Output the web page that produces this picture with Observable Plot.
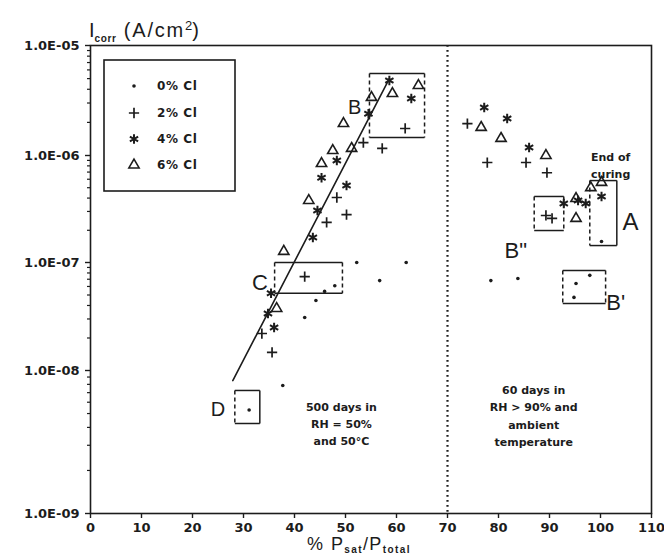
<!DOCTYPE html>
<html>
<head>
<meta charset="utf-8">
<script src="https://cdn.jsdelivr.net/npm/d3@7"></script>
<script src="https://cdn.jsdelivr.net/npm/@observablehq/plot@0.6"></script>
<style>
  html, body { margin: 0; padding: 0; background: #fff; }
  #chart svg { display: block; }
</style>
</head>
<body>
<div id="chart"></div>
<script>
// Corrosion current density against relative vapour saturation, by chloride content

// Axis ticks
const xTicks = [0, 10, 20, 30, 40, 50, 60, 70, 80, 90, 100, 110];
const yMajor = [1e-9, 1e-8, 1e-7, 1e-6, 1e-5];
const yMajorLabels = ["1.0E-09", "1.0E-08", "1.0E-07", "1.0E-06", "1.0E-05"];

// 0% Cl
const cl0X = [52.2, 61.9, 56.7, 47.9, 45.9, 44.2, 42.0, 37.7, 31.1, 78.5, 83.8, 100.2, 95.2, 97.9, 94.8];
const cl0Y = [1.0e-7, 1.0e-7, 6.8e-8, 6.1e-8, 5.4e-8, 4.45e-8, 3.1e-8, 7.85e-9, 5.3e-9, 6.8e-8, 7.1e-8, 1.57e-7, 6.4e-8, 7.6e-8, 4.75e-8];

// 2% Cl
const cl2X = [61.7, 53.5, 57.2, 48.3, 50.2, 46.3, 42.0, 33.6, 35.6, 73.9, 77.8, 85.4, 89.5, 89.3, 90.5];
const cl2Y = [1.76e-6, 1.31e-6, 1.16e-6, 4.05e-7, 2.8e-7, 2.37e-7, 7.4e-8, 2.2e-8, 1.47e-8, 1.95e-6, 8.6e-7, 8.6e-7, 6.9e-7, 2.75e-7, 2.58e-7];

// 4% Cl
const cl4X = [58.6, 62.9, 54.5, 48.3, 45.3, 50.2, 44.5, 43.6, 35.4, 34.8, 36.0, 77.2, 81.7, 86.0, 100.2, 92.8, 97.1, 95.6];
const cl4Y = [4.8e-6, 3.3e-6, 2.4e-6, 9.0e-7, 6.2e-7, 5.25e-7, 3.06e-7, 1.71e-7, 5.2e-8, 3.37e-8, 2.5e-8, 2.73e-6, 2.17e-6, 1.18e-6, 4.14e-7, 3.56e-7, 3.56e-7, 3.8e-7];

// 6% Cl
const cl6X = [59.2, 64.3, 55.1, 49.6, 51.2, 47.5, 45.3, 42.8, 37.9, 36.5, 76.6, 80.5, 89.3, 98.1, 100.2, 95.2, 95.2];
const cl6Y = [3.66e-6, 4.33e-6, 3.37e-6, 1.95e-6, 1.16e-6, 1.11e-6, 8.4e-7, 3.8e-7, 1.27e-7, 3.75e-8, 1.8e-6, 1.43e-6, 1.0e-6, 5.0e-7, 5.6e-7, 3.96e-7, 2.58e-7];

// Regression line through the curing-period points
const fitX = [27.9, 58.6];
const fitY = [8.5e-9, 5.0e-6];

// Grouping boxes
const boxNames = ["B", "C", "D", "B\"", "A", "B'"];
const boxX1 = [54.7, 36.1, 28.3, 87.0, 97.9, 92.6];
const boxX2 = [65.5, 49.4, 33.2, 92.8, 103.2, 101.0];
const boxYTop = [5.56e-6, 1.0e-7, 7.25e-9, 4.14e-7, 5.83e-7, 8.43e-8];
const boxYBottom = [1.46e-6, 5.2e-8, 4.26e-9, 1.99e-7, 1.44e-7, 4.17e-8];
const boxLabelX = [51.8, 33.2, 25.0, 83.4, 105.9, 103.0];
const boxLabelY = [2.73e-6, 6.4e-8, 5.3e-9, 1.29e-7, 2.37e-7, 4.26e-8];
const boxLabelSize = [20, 22, 20, 22, 24, 22];

// End of the curing period
const dividerX = [70];

// Notes
const noteText = ["500 days in\nRH = 50%\nand 50°C", "60 days in\nRH > 90% and\nambient\ntemperature", "End of\ncuring"];
const noteX = [49.2, 86.9, 102.0];
const noteY = [4.33e-9, 4.92e-9, 8.3e-7];

const legendLabels = ["0% Cl", "2% Cl", "4% Cl", "6% Cl"];

// Tables for the marks
const ink = "#1c1c1c";
const pts = (xs, ys) => xs.map((x, i) => ({x, y: ys[i]}));
const cl0 = pts(cl0X, cl0Y), cl2 = pts(cl2X, cl2Y), cl4 = pts(cl4X, cl4Y), cl6 = pts(cl6X, cl6Y);
const fit = pts(fitX, fitY);
const boxes = boxNames.map((name, i) => ({name, x1: boxX1[i], x2: boxX2[i], top: boxYTop[i], bottom: boxYBottom[i],
  lx: boxLabelX[i], ly: boxLabelY[i], size: boxLabelSize[i]}));
// top and bottom edges solid; right edge solid for A and D; the other sides dashed
const solidRight = new Set(["A", "D"]);
const solidEdges = boxes.flatMap(b => {
  const e = [
    {x1: b.x1, y1: b.top, x2: b.x2, y2: b.top},
    {x1: b.x1, y1: b.bottom, x2: b.x2, y2: b.bottom}
  ];
  if (solidRight.has(b.name)) e.push({x1: b.x2, y1: b.top, x2: b.x2, y2: b.bottom});
  return e;
});
const dashedEdges = boxes.flatMap(b => {
  const e = [{x1: b.x1, y1: b.top, x2: b.x1, y2: b.bottom}];
  if (!solidRight.has(b.name)) e.push({x1: b.x2, y1: b.top, x2: b.x2, y2: b.bottom});
  return e;
});
const notes = noteText.map((text, i) => ({text, x: noteX[i], y: noteY[i]}));
const yMinor = yMajor.slice(0, 4).flatMap(d => [2, 3, 4, 5, 6, 7, 8, 9].map(k => k * d));
const yLabelOf = new Map(yMajor.map((d, i) => [d, yMajorLabels[i]]));

const chart = Plot.plot({
  width: 664,
  height: 553,
  marginLeft: 90,
  marginRight: 13,
  marginTop: 45,
  marginBottom: 40,
  style: {fontFamily: "DejaVu Sans, sans-serif", color: ink, background: "#fff"},
  x: {domain: [0, 110]},
  y: {type: "log", domain: yMajor, range: [513, 370, 262, 155, 45]},
  marks: [
    Plot.frame({stroke: ink, strokeWidth: 1.6}),
    Plot.axisX(xTicks, {anchor: "bottom", tickSize: 5, tickPadding: 4, fontSize: 13, fontWeight: "bold", letterSpacing: -0.4, label: null, stroke: ink, strokeWidth: 1.4}),
    Plot.axisY(yMajor, {anchor: "left", tickSize: 5, tickPadding: 6, fontSize: 13, fontWeight: "bold", letterSpacing: 1.3, tickFormat: d => yLabelOf.get(d), label: null, stroke: ink, strokeWidth: 1.4}),
    Plot.axisY(yMinor, {anchor: "left", tickSize: 3, tickFormat: () => "", label: null, stroke: ink, strokeWidth: 1.2}),
    Plot.ruleX(dividerX, {stroke: ink, strokeWidth: 2.2, strokeDasharray: "1.8,3.2"}),
    Plot.line(fit, {x: "x", y: "y", stroke: ink, strokeWidth: 1.6}),
    Plot.link(solidEdges, {x1: "x1", y1: "y1", x2: "x2", y2: "y2", stroke: ink, strokeWidth: 1.5}),
    Plot.link(dashedEdges, {x1: "x1", y1: "y1", x2: "x2", y2: "y2", stroke: ink, strokeWidth: 1.5, strokeDasharray: "4,3"}),
    Plot.dot(cl0, {x: "x", y: "y", r: 1.8, fill: ink, stroke: "none"}),
    Plot.dot(cl2, {x: "x", y: "y", symbol: "plus", r: 3.4, fill: "none", stroke: ink, strokeWidth: 1.7}),
    Plot.dot(cl4, {x: "x", y: "y", symbol: "asterisk", r: 4.5, fill: "none", stroke: ink, strokeWidth: 2}),
    Plot.dot(cl6, {x: "x", y: "y", symbol: "triangle2", r: 4.9, fill: "none", stroke: ink, strokeWidth: 1.6}),
    Plot.text(boxes, {x: "lx", y: "ly", text: "name", fontSize: "size", fontFamily: "Liberation Sans, Arial, sans-serif", fill: ink}),
    Plot.text(notes, {x: "x", y: "y", text: "text", fontSize: 11, fontWeight: "bold", lineHeight: 1.55, fill: ink})
  ]
});

document.getElementById("chart").appendChild(chart);

// Axis titles with sub/superscripts
const svg = d3.select(chart);
const yTitle = svg.append("text")
  .attr("x", 89).attr("y", 37).attr("text-anchor", "start")
  .attr("font-family", "Liberation Sans, Arial, sans-serif")
  .attr("font-size", 20).attr("fill", ink);
yTitle.append("tspan").text("I");
yTitle.append("tspan").attr("font-size", 10).attr("font-weight", "bold").attr("letter-spacing", 0.6).attr("dy", 5).text("corr");
yTitle.append("tspan").attr("dy", -5).attr("letter-spacing", 1.8).text(" (A/cm");
yTitle.append("tspan").attr("font-size", 13).attr("dy", -7).text("2");
yTitle.append("tspan").attr("dy", 7).text(")");

const xTitle = svg.append("text")
  .attr("x", 359).attr("y", 550).attr("text-anchor", "middle")
  .attr("font-family", "Liberation Sans, Arial, sans-serif")
  .attr("font-size", 18).attr("letter-spacing", 1.4).attr("fill", ink);
xTitle.append("tspan").text("% P");
xTitle.append("tspan").attr("font-size", 10).attr("font-weight", "bold").attr("dy", 2.5).text("sat");
xTitle.append("tspan").attr("dy", -2.5).text("/P");
xTitle.append("tspan").attr("font-size", 10).attr("font-weight", "bold").attr("dy", 2.5).text("total");

// Legend box
const legend = svg.append("g");
legend.append("rect")
  .attr("x", 104).attr("y", 60).attr("width", 131).attr("height", 131)
  .attr("fill", "#fff").attr("stroke", ink).attr("stroke-width", 1.6);
const legendSymbols = [
  {type: d3.symbolCircle, r: 1.8, filled: true, sw: 0},
  {type: d3.symbolPlus, r: 3.4, filled: false, sw: 1.7},
  {type: d3.symbolAsterisk, r: 4.5, filled: false, sw: 2},
  {type: d3.symbolTriangle2, r: 4.9, filled: false, sw: 1.6}
];
const legendRowY = [86, 113, 139, 165];
legendLabels.forEach((label, i) => {
  const s = legendSymbols[i];
  legend.append("path")
    .attr("transform", `translate(134,${legendRowY[i]})`)
    .attr("d", d3.symbol(s.type, Math.PI * s.r * s.r)())
    .attr("fill", s.filled ? ink : "none")
    .attr("stroke", s.filled ? "none" : ink)
    .attr("stroke-width", s.sw);
  legend.append("text")
    .attr("x", 157).attr("y", legendRowY[i]).attr("dy", "0.35em")
    .attr("text-anchor", "start")
    .attr("font-size", 12).attr("font-weight", "bold").attr("letter-spacing", 0.6)
    .attr("fill", ink).text(label);
});
</script>
</body>
</html>
